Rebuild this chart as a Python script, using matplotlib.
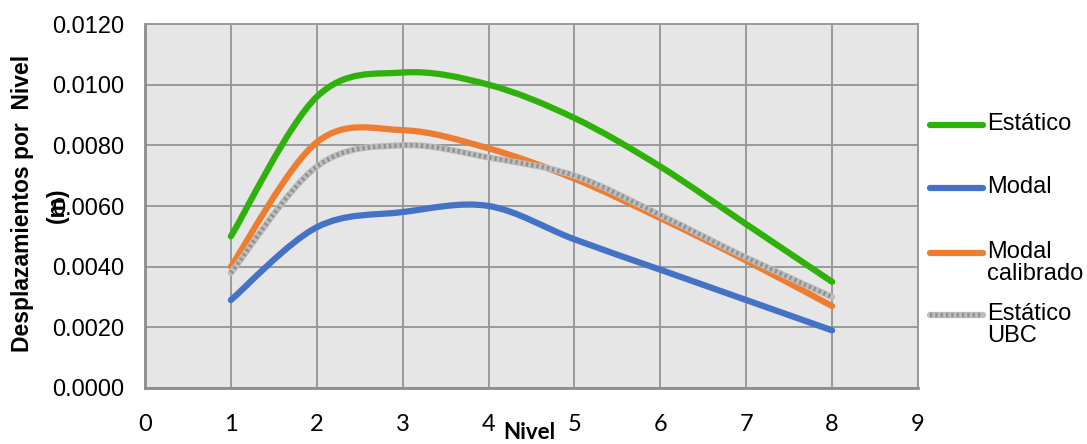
import matplotlib
matplotlib.use("Agg")
import matplotlib.pyplot as plt
from matplotlib.path import Path
from matplotlib.patches import PathPatch
from matplotlib.lines import Line2D
import numpy as np

niveles = [1, 2, 3, 4, 5, 6, 7, 8]
estatico = [0.0050, 0.0096, 0.0104, 0.0100, 0.0089, 0.0073, 0.0054, 0.0035]
modal = [0.0029, 0.0053, 0.0058, 0.0060, 0.0049, 0.0039, 0.0029, 0.0019]
modal_calibrado = [0.0040, 0.0081, 0.0085, 0.0079, 0.0069, 0.0056, 0.0042, 0.0027]
estatico_ubc = [0.0038, 0.0073, 0.0080, 0.0076, 0.0070, 0.0057, 0.0043, 0.0030]

labels = ["Estático", "Modal", "Modal\ncalibrado", "Estático\nUBC"]
colors = ["#2eb10a", "#4472c4", "#ed7d31", "#a5a5a5"]
yticks = [0.0, 0.002, 0.004, 0.006, 0.008, 0.010, 0.012]
xticks = [0, 1, 2, 3, 4, 5, 6, 7, 8, 9]

plt.rcParams['font.family'] = ['Liberation Sans', 'DejaVu Sans']

fig = plt.figure(figsize=(10.87, 4.44), dpi=100)
ax = fig.add_axes([145/1087, 1-388/444, (918-145)/1087, (388-24)/444])
ax.set_facecolor("#e6e6e6")

LW = 4.5


def smooth_path(xs, ys):
    pts = np.column_stack([xs, ys]).astype(float)
    n = len(pts)
    verts = [pts[0]]
    codes = [Path.MOVETO]
    for i in range(n - 1):
        p0 = pts[i - 1] if i > 0 else pts[i]
        p1 = pts[i]
        p2 = pts[i + 1]
        p3 = pts[i + 2] if i + 2 < n else pts[i + 1]
        c1 = p1 + (p2 - p0) / 6.0
        c2 = p2 - (p3 - p1) / 6.0
        verts += [c1, c2, p2]
        codes += [Path.CURVE4] * 3
    return Path(verts, codes)


series = [estatico, modal, modal_calibrado, estatico_ubc]
for vals, col in zip(series, colors):
    path = smooth_path(niveles, vals)
    if col == "#a5a5a5":
        ax.add_patch(PathPatch(path, facecolor="none", edgecolor="#bdbdbd",
                               lw=LW, capstyle="round", zorder=3))
        ax.add_patch(PathPatch(path, facecolor="none", edgecolor="#8f8f8f",
                               lw=3.2, linestyle=(0, (0.5, 0.7)), zorder=3.1))
    else:
        ax.add_patch(PathPatch(path, facecolor="none", edgecolor=col,
                               lw=LW, capstyle="round", zorder=3))

ax.set_xlim(0, 9)
ax.set_ylim(0, 0.012)
ax.set_xticks(xticks)
ax.set_yticks(yticks)
ax.set_yticklabels([f"{v:.4f}" for v in yticks])
ax.tick_params(axis="both", length=0, colors="black")
ax.tick_params(axis="y", pad=15, labelsize=17)
ax.tick_params(axis="x", pad=19, labelsize=17)
for t in ax.get_xticklabels():
    t.set_fontfamily(["Lato", "DejaVu Sans"])
ax.grid(True, color="#999999", lw=1.4)
ax.set_axisbelow(True)
for s in ["top", "right"]:
    ax.spines[s].set_color("#999999")
    ax.spines[s].set_linewidth(1.4)
for s in ["left", "bottom"]:
    ax.spines[s].set_color("#8c8c8c")
    ax.spines[s].set_linewidth(2.0)

# axis titles
fig.text(23/1087, 1-203/444, "Desplazamientos por  Nivel", rotation=90,
         ha="center", va="center", fontsize=16.5, fontweight="bold")
fig.text(57/1087, 1-205/444, "(m)", rotation=90,
         ha="center", va="center", fontsize=16.5, fontweight="bold")
fig.text(529/1087, 1-432/444, "Nivel", ha="center", va="center",
         fontsize=16, fontweight="bold", family=["Lato", "DejaVu Sans"])

# legend (manual, Excel-style)
leg_y = [125, 188, 253, 315]
for lab, col, yy in zip(labels, colors, leg_y):
    yf = 1 - yy/444
    if col == "#a5a5a5":
        fig.add_artist(Line2D([930/1087, 983/1087], [yf, yf], color="#bdbdbd",
                              lw=LW, solid_capstyle="round"))
        fig.add_artist(Line2D([930/1087, 983/1087], [yf, yf], color="#8f8f8f",
                              lw=3.2, linestyle=(0, (0.5, 0.7))))
    else:
        fig.add_artist(Line2D([930/1087, 983/1087], [yf, yf], color=col,
                              lw=LW, solid_capstyle="round"))
    fig.text(987/1087, yf + 12.5/444, lab, ha="left", va="top", fontsize=17,
             linespacing=1.02)

fig.savefig("out.png", dpi=100)
